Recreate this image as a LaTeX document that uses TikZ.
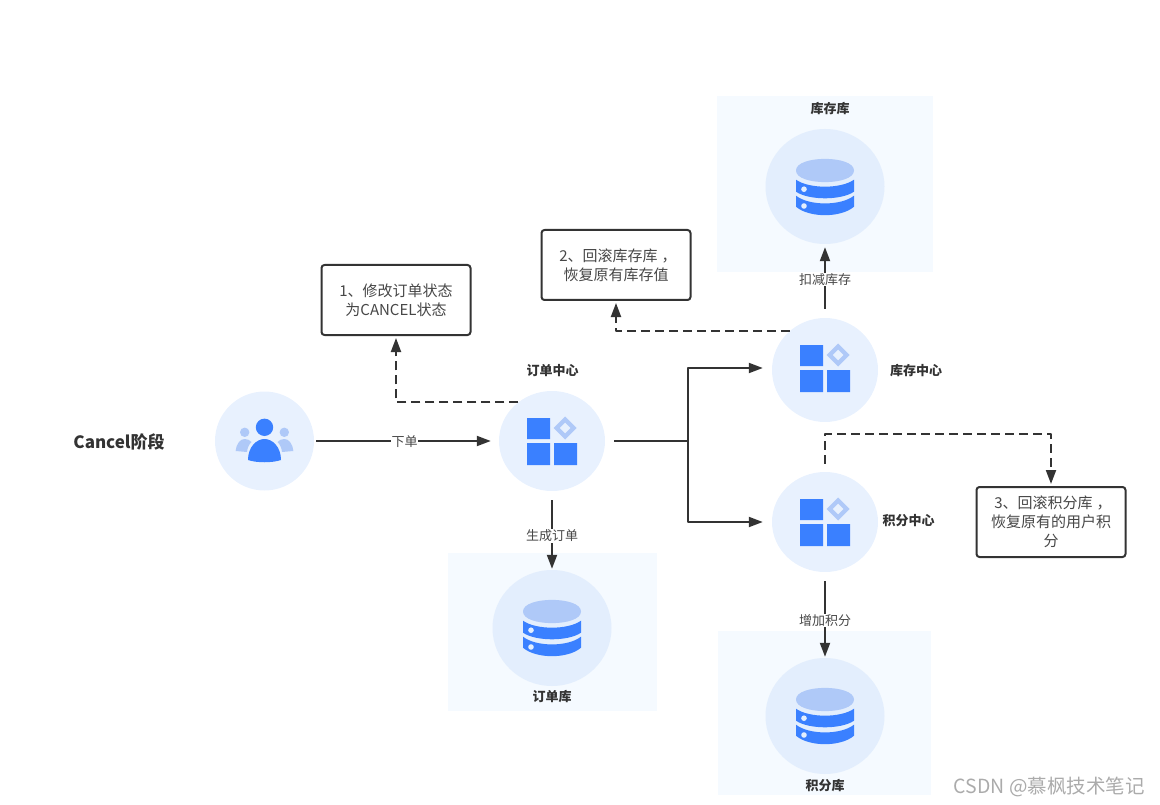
\documentclass[tikz,border=0pt]{standalone}
\usepackage{fontspec}
\setmainfont{Noto Sans CJK SC}
\usetikzlibrary{arrows.meta,shapes.geometric}
\definecolor{iconblue}{HTML}{3A80FF}
\definecolor{iconlight}{HTML}{AFC9F8}
\definecolor{discfill}{HTML}{E8F1FE}
\definecolor{dbdisc}{HTML}{E3EEFD}
\definecolor{panelfill}{HTML}{F5FAFF}
\definecolor{inkdark}{HTML}{333333}
\definecolor{inkgrey}{HTML}{ABABAB}
\newcommand{\widecomma}{\kern4pt，\kern-4pt}
\tikzset{
 disc/.style={ellipse,fill=discfill,inner sep=0pt,minimum width=106pt,minimum height=100pt},
 dbnode/.style={ellipse,fill=dbdisc,inner sep=0pt,minimum width=119pt,minimum height=115pt},
 panel/.style={rectangle,fill=panelfill,inner sep=0pt},
 notebox/.style={draw=inkdark,line width=2pt,rounded corners=3pt,fill=white,align=center,inner sep=0pt,
  minimum width=149pt,minimum height=70pt,text=inkdark!90!white,font=\fontsize{15}{19}\selectfont},
 title/.style={text=inkdark,font=\fontsize{13}{15}\selectfont\bfseries,inner sep=0pt},
 edgelabel/.style={fill=white,text=inkdark!90!white,inner sep=.5pt,font=\fontsize{13}{15}\selectfont},
 flow/.style={draw=inkdark,line width=2pt,-{Stealth[length=14pt,width=10pt,inset=0pt]}},
 plain/.style={draw=inkdark,line width=2pt},
 back/.style={flow,dash pattern=on 9pt off 5pt},
 appsicon/.pic={
  \fill[iconblue] (-25,-23) rectangle (-2,-2) (-25,2) rectangle (-2,24) (2,2) rectangle (25,24);
  \fill[iconlight,even odd rule] (13,-24.5)--(24.5,-13)--(13,-1.5)--(1.5,-13)--cycle
   (13,-18.5)--(18.5,-13)--(13,-7.5)--(7.5,-13)--cycle;
 },
 dbicon/.pic={
  \fill[iconlight] (-29,-16.5)..controls (-29,-32) and (29,-32)..(29,-16.5)
   ..controls (29,-1) and (-29,-1)..(-29,-16.5)--cycle;
  \fill[iconblue] (-29,-7.3)..controls (-16,2) and (16,2)..(29,-7.3)--(29,4.7)
   ..controls (16,13.5) and (-16,13.5)..(-29,4.7)--cycle;
  \fill[iconblue] (-29,8.7)..controls (-16,19) and (16,19)..(29,8.7)--(29,19.7)
   ..controls (16,31) and (-16,31)..(-29,19.7)--cycle;
  \fill[dbdisc] (-21,2.2) circle (2.8) (-21,19) circle (2.8);
 },
 usersicon/.pic={
  \fill[iconlight] (-19.8,-8.7) circle (4.7) (19.8,-8.7) circle (4.7);
  \fill[iconlight] (-28.8,10)..controls (-28,2) and (-24,-2)..(-19.8,-2)
   ..controls (-17,-2) and (-15,-1)..(-13,1)..controls (-16,4) and (-17,7)..(-17.5,11)--cycle;
  \fill[iconlight] (28.8,10)..controls (28,2) and (24,-2)..(19.8,-2)
   ..controls (17,-2) and (15,-1)..(13,1)..controls (16,4) and (17,7)..(17.5,11)--cycle;
  \fill[iconblue] (0,-13.7) circle (8.7);
  \fill[iconblue] (-16.5,19)..controls (-16.5,6) and (-8,-2)..(0,-2)
   ..controls (8,-2) and (16.5,6)..(16.5,19)..controls (8,22) and (-8,22)..(-16.5,19)--cycle;
 },
}
\begin{document}
\begin{tikzpicture}[>=stealth,line join=round,x=1pt,y=-1pt]
 \useasboundingbox (0,0) rectangle (1160,805);
 \node[panel,minimum width=216pt,minimum height=176pt] (stockpanel) at (825,184) {};
 \node[panel,minimum width=209pt,minimum height=158pt] (orderpanel) at (552.5,632) {};
 \node[panel,minimum width=213pt,minimum height=164pt] (pointspanel) at (824.5,713) {};

 \node[font=\fontsize{17}{20}\selectfont\bfseries,text=inkdark,inner sep=0pt] (phase) at (119,442) {Cancel阶段};

 \node[ellipse,fill=discfill,inner sep=0pt,minimum width=99pt,minimum height=99pt] (user) at (264.5,441) {};
 \node[disc] (order) at (552,441) {};
 \node[disc,minimum height=104pt] (stock) at (825,370) {};
 \node[disc] (points) at (825,522) {};
 \node[dbnode] (stockdb) at (825,186.5) {};
 \node[dbnode,minimum height=116pt] (orderdb) at (552,628) {};
 \node[dbnode,minimum height=116pt] (pointsdb) at (825,716) {};

 \pic at (264.5,441) {usersicon};
 \pic at (552,441) {appsicon};
 \pic at (825,368) {appsicon};
 \pic at (825,522) {appsicon};
 \pic at (825,187) {dbicon};
 \pic at (552,628) {dbicon};
 \pic at (825,716) {dbicon};

 \node[title] (ordertitle) at (552.5,371) {订单中心};
 \node[title] (stocktitle) at (916,371) {库存中心};
 \node[title] (pointstitle) at (908.5,521) {积分中心};
 \node[title] (stockdbtitle) at (830,109) {库存库};
 \node[title] (orderdbtitle) at (552,697) {订单库};
 \node[title] (pointsdbtitle) at (825,786) {积分库};

 \node[notebox] (box1) at (396,300) {1、修改订单状态\\为CANCEL状态};
 \node[notebox] (box2) at (616,265) {2、回滚库存库\widecomma\\恢复原有库存值};
 \node[notebox] (box3) at (1051,522) {3、回滚积分库\widecomma\\恢复原有的用户积\\分};

 \coordinate (split) at (688,441);
 \coordinate (bend) at (1051,434);

 \draw[flow,shorten <=2pt,shorten >=8pt] (user.east)--(order.west)
  node[edgelabel,pos=.49,yshift=-.5pt] (orderlabel) {下单};
 \draw[plain,shorten <=9pt] (order.east)--(split);
 \draw[flow,shorten >=9pt] (split)|-([yshift=2pt]stock.west);
 \draw[flow,shorten >=9pt] (split)|-(points.west);
 \draw[flow,shorten <=9pt,shorten >=1pt] (order.south)--(orderdb.north)
  node[edgelabel,pos=.57] (makelabel) {生成订单};
 \draw[flow,shorten <=9pt,shorten >=3pt] (stock.north)--(stockdb.south)
  node[edgelabel,pos=.52] (cutlabel) {扣减库存};
 \draw[flow,shorten <=9pt,shorten >=1pt] (points.south)--(pointsdb.north)
  node[edgelabel,pos=.56] (addlabel) {增加积分};

 \draw[back,shorten >=2pt] (order.131)-|(box1.south);
 \draw[back,shorten >=2pt] (stock.132)-|(box2.south);
 \draw[back,shorten <=8pt,shorten >=2pt] (points.north)|-(bend)--(box3.north);

 \node[text=inkgrey,anchor=east,inner sep=0pt,font=\fontsize{19.5}{22}\selectfont] (mark) at (1145,787) {CSDN @慕枫技术笔记};
\end{tikzpicture}
\end{document}
